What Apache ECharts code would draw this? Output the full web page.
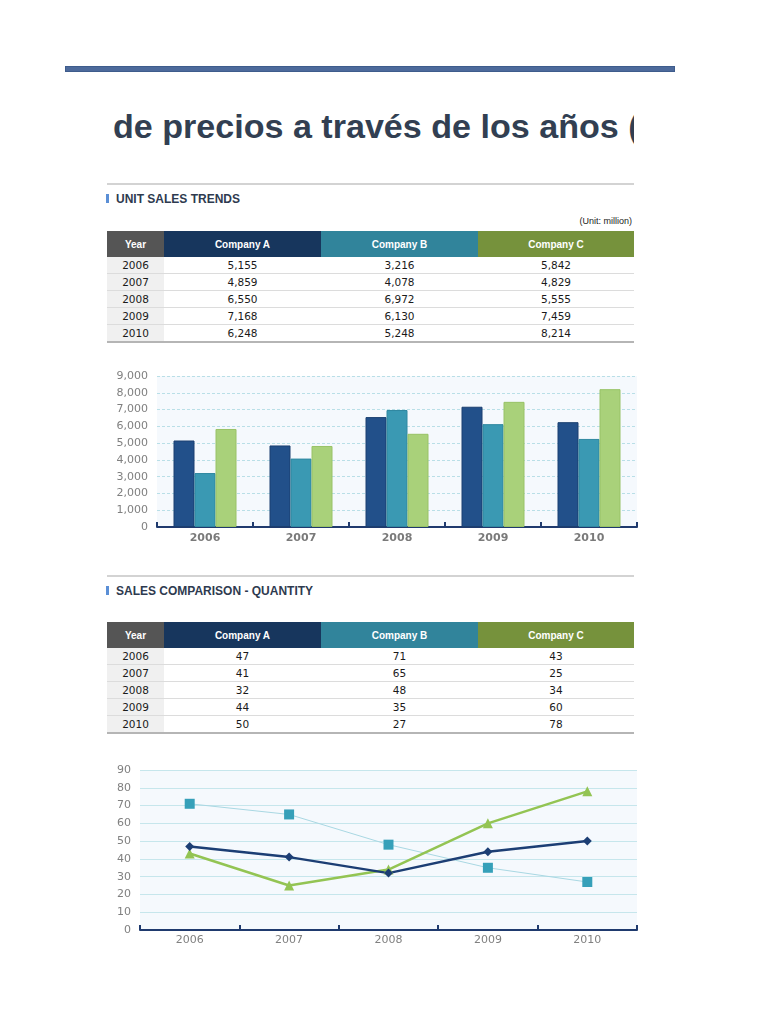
<!DOCTYPE html>
<html>
<head>
<meta charset="utf-8">
<script src="https://cdn.jsdelivr.net/npm/echarts@6/dist/echarts.min.js"></script>
<style>
body{margin:0;background:#fff;font-family:"Liberation Sans",Arial,sans-serif;}
.abs{position:absolute;}
#topbar{left:65px;top:66px;width:608px;height:4px;background:#4d6a9b;border:1px solid #3e5c8c;}
#title{left:107px;top:107px;width:527px;height:46px;overflow:hidden;white-space:nowrap;font-weight:bold;font-size:34.1px;color:#323f52;padding-left:6px;box-sizing:border-box;}
.rule{left:107px;width:527px;height:2px;background:#d3d3d3;}
.sec{left:106px;font-weight:bold;font-size:12px;color:#2e3a4f;}
.sec i{display:inline-block;width:3px;height:9px;background:#5b8fd6;margin-right:7px;vertical-align:0px;}
#unit{left:500px;top:216px;width:132px;text-align:right;font-size:9px;color:#222;}
table{position:absolute;left:107px;width:527px;border-collapse:collapse;table-layout:fixed;}
th{height:26px;color:#fff;font-size:10px;font-weight:bold;padding:0;}
td{height:16px;border-bottom:1px solid #dcdcdc;text-align:center;font-family:"DejaVu Sans",sans-serif;font-size:10.5px;color:#1a1a1a;padding:0;}
td.y{background:#f0f0f0;}
tr.last td{border-bottom:2px solid #b5b5b5;}
</style>
</head>
<body>
<div id="topbar" class="abs"></div>
<div id="title" class="abs">de precios a través de los años (en millones)</div>
<div class="abs rule" style="top:183px"></div>
<div class="abs sec" style="top:192px"><i></i>UNIT SALES TRENDS</div>
<div id="unit" class="abs">(Unit: million)</div>
<table id="t1" style="top:231px"></table>
<div id="bar" class="abs" style="left:100px;top:360px;width:545px;height:190px"></div>
<div class="abs rule" style="top:575px"></div>
<div class="abs sec" style="top:584px"><i></i>SALES COMPARISON - QUANTITY</div>
<table id="t2" style="top:622px"></table>
<div id="line" class="abs" style="left:100px;top:760px;width:545px;height:195px"></div>
<script>
var years = ['2006','2007','2008','2009','2010'];
var companies = ['Company A','Company B','Company C'];
// unit sales (million)
var salesA = [5155,4859,6550,7168,6248];
var salesB = [3216,4078,6972,6130,5248];
var salesC = [5842,4829,5555,7459,8214];
// quantity
var qtyA = [47,41,32,44,50];
var qtyB = [71,65,48,35,27];
var qtyC = [43,25,34,60,78];
var salesTicks = [0,1000,2000,3000,4000,5000,6000,7000,8000,9000];
var qtyTicks = [0,10,20,30,40,50,60,70,80,90];

var headColors = ['#555555','#17365d','#31849b','#76923c'];

function fmt(n){
	return String(n).replace(/\B(?=(\d{3})+(?!\d))/g, ',');
}

//表格
function makeTable(id, a, b, c){
	var html = '<colgroup><col style="width:57px"><col style="width:157px"><col style="width:157px"><col style="width:156px"></colgroup><tr>';
	var heads = ['Year'].concat(companies);
	for(var h=0;h<heads.length;h++){
		html += '<th style="background:'+headColors[h]+'">'+heads[h]+'</th>';
	}
	html += '</tr>';
	for(var i=0;i<years.length;i++){
		html += '<tr'+(i==years.length-1?' class="last"':'')+'><td class="y">'+years[i]+'</td>'+
			'<td>'+fmt(a[i])+'</td>'+
			'<td>'+fmt(b[i])+'</td>'+
			'<td>'+fmt(c[i])+'</td></tr>';
	}
	document.getElementById(id).innerHTML = html;
}
makeTable('t1', salesA, salesB, salesC);
makeTable('t2', qtyA, qtyB, qtyC);

var axisCommon = {
	axisLine:{show:true,lineStyle:{color:'#1f3a6e',width:2}},
	axisTick:{show:true,inside:true,length:5,lineStyle:{color:'#1f3a6e',width:2}}
};

//柱状图
var barChart = echarts.init(document.getElementById('bar'));
barChart.setOption({
	animation:false,
	grid:{left:57,right:8,top:16,bottom:23,show:true,backgroundColor:'#f5f9fd',borderWidth:0},
	xAxis:{
		type:'category',
		data:years,
		axisLine:axisCommon.axisLine,
		axisTick:axisCommon.axisTick,
		axisLabel:{color:'#7a7a7a',fontWeight:'bold',fontSize:11,fontFamily:'DejaVu Sans',margin:6}
	},
	yAxis:{
		type:'value',
		min:salesTicks[0],
		max:salesTicks[salesTicks.length-1],
		interval:salesTicks[1]-salesTicks[0],
		axisLine:{show:false},
		axisTick:{show:false},
		axisLabel:{color:'#7f7f7f',fontSize:11,fontFamily:'DejaVu Sans',margin:9,formatter:function(v){return fmt(v);}},
		splitLine:{lineStyle:{color:'#b9dfe7',type:[3,2]}}
	},
	series:[
		{name:companies[0],type:'bar',data:salesA,barWidth:21,barGap:'0%',itemStyle:{color:'#22508a',borderColor:'#1a3f70',borderWidth:1}},
		{name:companies[1],type:'bar',data:salesB,barWidth:21,barGap:'0%',itemStyle:{color:'#3a99b3',borderColor:'#2f88a0',borderWidth:1}},
		{name:companies[2],type:'bar',data:salesC,barWidth:21,barGap:'0%',itemStyle:{color:'#a9d17a',borderColor:'#98c266',borderWidth:1}}
	]
});

//折线图
var lineChart = echarts.init(document.getElementById('line'));
lineChart.setOption({
	animation:false,
	grid:{left:40,right:8,top:10,bottom:25,show:true,backgroundColor:'#f5f9fd',borderWidth:0},
	xAxis:{
		type:'category',
		data:years,
		axisLine:axisCommon.axisLine,
		axisTick:axisCommon.axisTick,
		axisLabel:{color:'#808080',fontSize:11,fontFamily:'DejaVu Sans',margin:5}
	},
	yAxis:{
		type:'value',
		min:qtyTicks[0],
		max:qtyTicks[qtyTicks.length-1],
		interval:qtyTicks[1]-qtyTicks[0],
		axisLine:{show:false},
		axisTick:{show:false},
		axisLabel:{color:'#808080',fontSize:11,fontFamily:'DejaVu Sans',margin:9},
		splitLine:{lineStyle:{color:'#c6e6ec',width:1}}
	},
	series:[
		{name:companies[1],type:'line',data:qtyB,symbol:'rect',symbolSize:10,lineStyle:{color:'#a9d8e3',width:1},itemStyle:{color:'#36a0b9'}},
		{name:companies[2],type:'line',data:qtyC,symbol:'triangle',symbolSize:10,lineStyle:{color:'#93c453',width:2.5},itemStyle:{color:'#93c453'}},
		{name:companies[0],type:'line',data:qtyA,symbol:'diamond',symbolSize:9,lineStyle:{color:'#1c3e74',width:2.5},itemStyle:{color:'#1c3e74'}}
	]
});
</script>
</body>
</html>
